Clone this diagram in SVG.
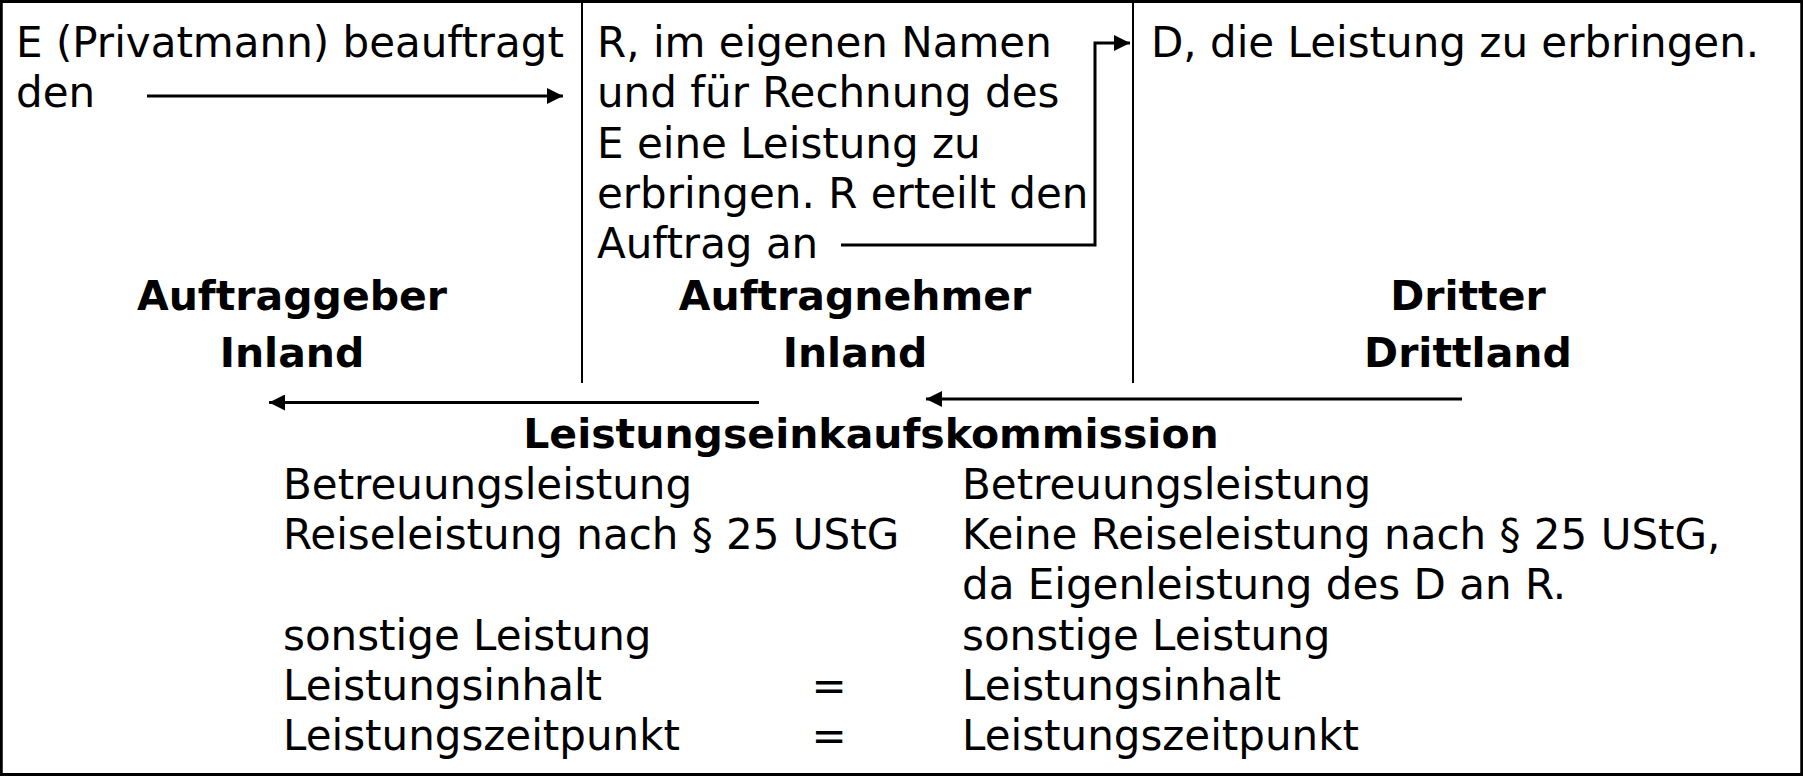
<svg xmlns="http://www.w3.org/2000/svg" width="1803" height="776" viewBox="0 0 1803 776">
<defs>
<style>
.t{font-family:"DejaVu Sans","Verdana",sans-serif;font-size:42px;fill:#000}
.b{font-family:"DejaVu Sans","Verdana",sans-serif;font-size:41px;font-weight:bold;fill:#000;text-anchor:middle}
.c{stroke:#000;stroke-width:3;fill:none}
.d{stroke:#000;stroke-width:2;fill:none}
</style>
<marker id="ah" markerUnits="userSpaceOnUse" markerWidth="17" markerHeight="16" refX="16" refY="8" orient="auto">
<path d="M0,0 L16,8 L0,16 z" fill="#000"/>
</marker>
</defs>
<rect x="0" y="0" width="1803" height="776" fill="#fff"/>
<rect x="1.25" y="1.5" width="1800.5" height="773" fill="none" stroke="#000" stroke-width="3"/>
<g id="dividers">
<line class="d" x1="582" y1="0" x2="582" y2="383"/>
<line class="d" x1="1133" y1="0" x2="1133" y2="383"/>
</g>
<g id="auftraggeber">
<text class="t" x="16" y="57">E (Privatmann) beauftragt</text>
<text class="t" x="16" y="107">den</text>
<text class="b" x="292" y="310">Auftraggeber</text>
<text class="b" x="292" y="367">Inland</text>
</g>
<g id="auftragnehmer">
<text class="t" x="597" y="57">R, im eigenen Namen</text>
<text class="t" x="597" y="107">und für Rechnung des</text>
<text class="t" x="597" y="158">E eine Leistung zu</text>
<text class="t" x="597" y="208">erbringen. R erteilt den</text>
<text class="t" x="597" y="258">Auftrag an</text>
<text class="b" x="855" y="310">Auftragnehmer</text>
<text class="b" x="855" y="367">Inland</text>
</g>
<g id="dritter">
<text class="t" x="1151" y="57">D, die Leistung zu erbringen.</text>
<text class="b" x="1468" y="310">Dritter</text>
<text class="b" x="1468" y="367">Drittland</text>
</g>
<g id="connectors">
<line class="c" x1="147" y1="96" x2="563" y2="96" marker-end="url(#ah)"/>
<polyline class="c" points="841,245 1095,245 1095,43 1130,43" marker-end="url(#ah)"/>
<line class="c" x1="759" y1="402.5" x2="269" y2="402.5" marker-end="url(#ah)"/>
<line class="c" x1="1462" y1="399" x2="926" y2="399" marker-end="url(#ah)"/>
</g>
<g id="kommission">
<text class="b" x="871" y="448">Leistungseinkaufskommission</text>
<text class="t" x="283" y="499">Betreuungsleistung</text>
<text class="t" x="283" y="549">Reiseleistung nach § 25 UStG</text>
<text class="t" x="283" y="650">sonstige Leistung</text>
<text class="t" x="283" y="700">Leistungsinhalt</text>
<text class="t" x="283" y="750">Leistungszeitpunkt</text>
<text class="t" x="829" y="700" text-anchor="middle">=</text>
<text class="t" x="829" y="750" text-anchor="middle">=</text>
<text class="t" x="962" y="499">Betreuungsleistung</text>
<text class="t" x="962" y="549">Keine Reiseleistung nach § 25 UStG,</text>
<text class="t" x="962" y="599">da Eigenleistung des D an R.</text>
<text class="t" x="962" y="650">sonstige Leistung</text>
<text class="t" x="962" y="700">Leistungsinhalt</text>
<text class="t" x="962" y="750">Leistungszeitpunkt</text>
</g>
</svg>
